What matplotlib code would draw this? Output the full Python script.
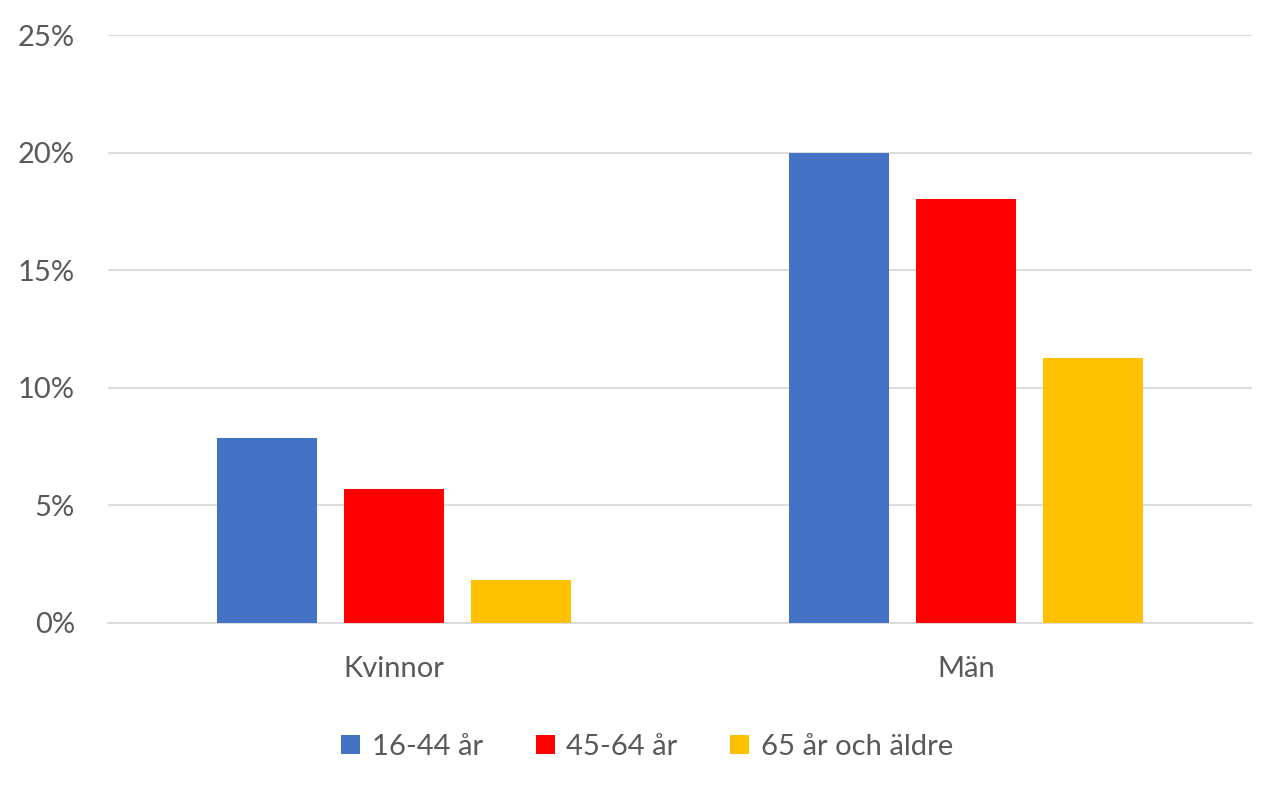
import numpy as np
import matplotlib.pyplot as plt
from matplotlib.ticker import PercentFormatter

plt.rcParams['font.family'] = ['Lato', 'DejaVu Sans']

categories = ['Kvinnor', 'Män']
series_names = ['16-44 år', '45-64 år', '65 år och äldre']
values_16_44 = [7.85, 20.0]
values_45_64 = [5.7, 18.05]
values_65 = [1.8, 11.25]
colors = ['#4472c4', '#ff0000', '#ffc000']

fig = plt.figure(figsize=(12.8, 7.88), dpi=100)
ax = fig.add_axes([0.0845, 0.21, 0.894, 0.745])

x = np.arange(len(categories))
width = 0.175
step = 0.222
for i, (vals, name) in enumerate(zip([values_16_44, values_45_64, values_65], series_names)):
    ax.bar(x + (i - 1) * step, vals, width, color=colors[i], label=name, zorder=3)

ax.set_xlim(-0.5, 1.5)
ax.set_ylim(0, 25)
ax.set_yticks(np.arange(0, 26, 5))
ax.yaxis.set_major_formatter(PercentFormatter(decimals=0))
ax.set_xticks(x)
ax.set_xticklabels(categories)
ax.grid(axis='y', color='#d9d9d9', linewidth=1.3, zorder=0)
for s in ['top', 'right', 'left']:
    ax.spines[s].set_visible(False)
ax.spines['bottom'].set_color('#d9d9d9')
ax.spines['bottom'].set_linewidth(1.3)
ax.tick_params(axis='both', length=0, labelsize=21, colors='#595959')
ax.tick_params(axis='x', pad=24)
ax.tick_params(axis='y', pad=24)

ax.legend(loc='upper center', bbox_to_anchor=(0.471, -0.145), ncol=3, frameon=False,
          fontsize=21, labelcolor='#595959', handlelength=0.65, handleheight=0.65,
          handletextpad=0.4, columnspacing=1.8)

fig.savefig('out.png')
